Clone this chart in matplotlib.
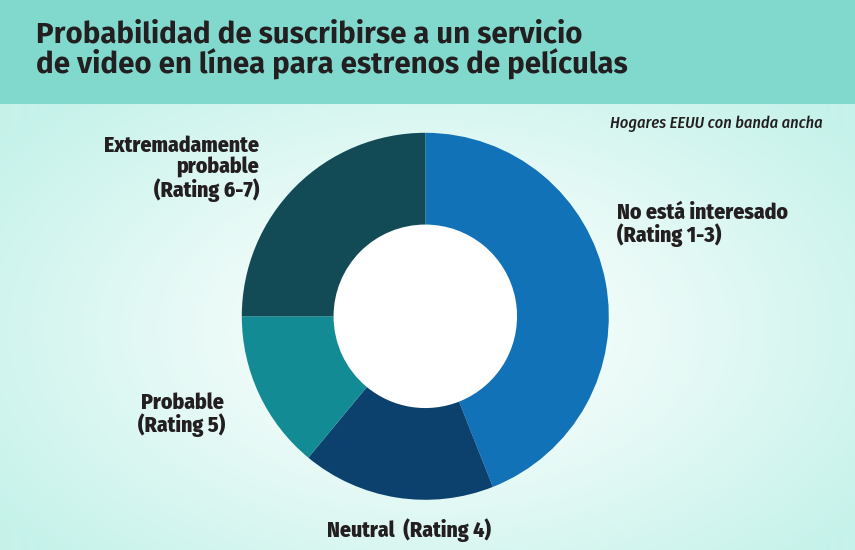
import numpy as np
import matplotlib
matplotlib.use("Agg")
import matplotlib.pyplot as plt
from matplotlib import font_manager as fm
from matplotlib.patches import Rectangle

# ---------------- data ----------------
title_lines = ["Probabilidad de suscribirse a un servicio",
               "de video en línea para estrenos de películas"]
subtitle = "Hogares EEUU con banda ancha"
categories = ["No está interesado (Rating 1-3)",
              "Neutral  (Rating 4)",
              "Probable (Rating 5)",
              "Extremadamente probable (Rating 6-7)"]
values = [44, 17, 14, 25]
colors = ["#1172b8", "#0c416e", "#138b95", "#124a56"]

# ---------------- fonts ----------------
fl = fm.fontManager.ttflist
def has(name, weight=None, style=None):
    for f in fl:
        if f.name == name and (weight is None or str(f.weight) == str(weight)) \
                and (style is None or f.style == style):
            return True
    return False

cond_family = next((n for n in ["Fira Sans Condensed", "Open Sans Condensed", "Roboto Condensed",
                                "PT Sans Narrow", "DejaVu Sans"] if has(n)), "DejaVu Sans")
label_weight = 800 if has(cond_family, 800) else "bold"
title_family = next((n for n in ["Source Sans 3", "Fira Sans", "Lato"] if has(n, 700)), "DejaVu Sans")
TXT = "#231f20"

W, H = 855, 550
fig = plt.figure(figsize=(W / 100, H / 100), dpi=100)
ax = fig.add_axes([0, 0, 1, 1])
ax.set_xlim(0, W)
ax.set_ylim(H, 0)
ax.axis("off")

# background radial gradient
yy, xx = np.mgrid[0:H, 0:W]
d = np.sqrt(((xx - 430) / 530.0) ** 2 + ((yy - 330) / 320.0) ** 2)
t = np.clip(d, 0, 1) ** 1.15
white = np.array([1.0, 1.0, 1.0])
edge = np.array([0xc5, 0xf2, 0xea]) / 255.0
img = white[None, None, :] * (1 - t[..., None]) + edge[None, None, :] * t[..., None]
ax.imshow(img, extent=(0, W, H, 0), aspect="auto", zorder=0)

# header band
ax.add_patch(Rectangle((0, 0), W, 104, facecolor="#81d9cd", edgecolor="none", zorder=1))

fig.canvas.draw()
renderer = fig.canvas.get_renderer()


def fit_size(text, target_w, family, style="normal", weight="bold", size0=20):
    t = ax.text(0, 0, text, fontsize=size0, family=family, fontweight=weight, fontstyle=style)
    w = t.get_window_extent(renderer=renderer).width
    t.remove()
    return size0 * target_w / w


def put(text, x, y, size, family, ha="left", style="normal", weight="bold", **kw):
    return ax.text(x, y, text, ha=ha, va="baseline", fontsize=size, family=family,
                   fontweight=weight, fontstyle=style, color=TXT, zorder=5, **kw)


# title (one text, two lines, 28 px between baselines; baseline of last line at y=74)
tsize = fit_size(title_lines[1], 628 - 36, title_family)
fp = fm.FontProperties(family=title_family, weight="bold", size=tsize)
_, lp_h, _ = renderer.get_text_width_height_descent("lp", fp, ismath=False)
put("\n".join(title_lines), 36, 74, tsize, title_family,
    linespacing=28.0 / lp_h, multialignment="left")

# subtitle
ssize = fit_size(subtitle, 823 - 610, cond_family, style="italic", weight="medium")
put(subtitle, 610, 128, ssize, cond_family, style="italic", weight="medium")

# category labels, common size
lsize = 0.5 * (fit_size("No está interesado", 788 - 617, cond_family, weight=label_weight)
               + fit_size("Extremadamente", 259 - 103, cond_family, weight=label_weight))
put("No está interesado", 617, 219, lsize, cond_family, weight=label_weight)
put("(Rating 1-3)", 617, 242, lsize, cond_family, weight=label_weight)
put("Neutral  (Rating 4)", 409, 537, lsize, cond_family, ha="center", weight=label_weight)
put("Probable", 224, 409, lsize, cond_family, ha="right", weight=label_weight)
put("(Rating 5)", 225, 432, lsize, cond_family, ha="right", weight=label_weight)
put("Extremadamente", 259, 152, lsize, cond_family, ha="right", weight=label_weight)
put("probable", 259, 174, lsize, cond_family, ha="right", weight=label_weight)
put("(Rating 6-7)", 259, 197, lsize, cond_family, ha="right", weight=label_weight)

# donut
cx, cy, R = 425.3, 316.3, 183.5
pax = fig.add_axes([(cx - R) / W, (H - cy - R) / H, 2 * R / W, 2 * R / H])
pax.pie(values, colors=colors, startangle=90, counterclock=False,
        wedgeprops=dict(width=0.5, edgecolor="none"), radius=1.0)
pax.set_xlim(-1, 1)
pax.set_ylim(-1, 1)
pax.set_aspect("auto")
pax.axis("off")
pax.add_patch(plt.Circle((0, 0), 0.5, facecolor="white", edgecolor="none", zorder=0))

fig.savefig("out.png", dpi=100)
